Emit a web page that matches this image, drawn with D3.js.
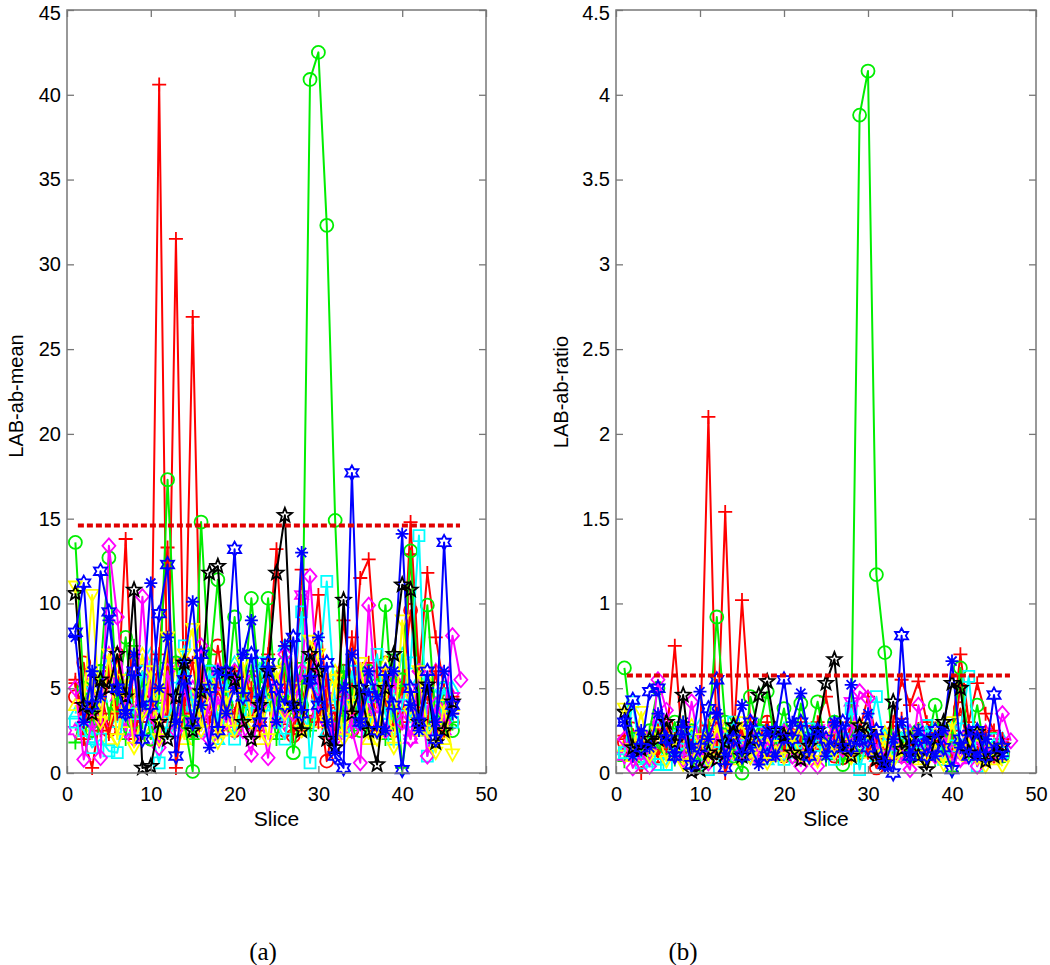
<!DOCTYPE html>
<html><head><meta charset="utf-8">
<script src="https://cdn.jsdelivr.net/npm/d3@7"></script>
<style>body{margin:0;background:#fff}svg{display:block}</style>
</head><body>
<svg id="c" width="1050" height="965"></svg>
<script>
// ---- tick labels / axes ----
const xTicks = [0, 10, 20, 30, 40, 50];
const meanTicks = [0, 5, 10, 15, 20, 25, 30, 35, 40, 45];
const ratioTicks = [0, 0.5, 1, 1.5, 2, 2.5, 3, 3.5, 4, 4.5];
const meanThreshold = 14.6;
const ratioThreshold = 0.575;
const thresholdSpan = [1.3, 46.9];

// ---- LAB-ab-mean series (panel a), value per slice 1..n ----
const meanRedO   = [4.5,6.5,3.0,5.0,2.5,7.0,4.0,3.5,6.0,2.0, 5.5,3.0,4.5,6.5,2.5,5.0,3.5,7.5,4.0,2.5, 5.5,3.0,6.0,4.5,3.5,2.5,2.2,5.0,3.0,4.5, 0.7,3.5,6.0,2.5,5.0,3.0,4.0,6.5,2.5,5.0, 9.6,3.5,4.5,2.0,5.0,3.0];
const meanGreenPlus = [1.8,4.5,2.5,6.0,3.5,5.0,2.0,7.5,3.0,4.5, 2.5,6.5,3.5,5.0,2.0,4.0,7.0,3.0,5.5,2.5, 4.5,6.0,3.0,5.0,2.0,4.5,3.5,6.5,2.5,5.0, 4.0,3.0,6.0,2.5,4.5,3.5,5.5,2.0,7.0,0.3, 4.0,3.0,5.5,2.5,4.0,3.0];
const meanCyanTri = [3.5,5.0,2.0,4.5,6.5,3.0,5.5,2.5,4.0,7.0, 3.5,5.0,2.5,6.0,4.0,3.0,5.5,2.0,4.5,6.5, 3.0,5.0,2.5,4.0,3.5,7.5,5.0,3.0,6.0,4.5, 2.5,5.5,3.5,4.0,6.0,2.5,5.0,3.5,4.5,7.0, 3.0,5.5,2.5,4.5,3.5,5.0];
const meanMagentaHex = [2.5,4.0,5.5,3.0,7.0,4.5,2.5,6.0,3.5,5.0, 2.0,4.5,6.5,3.0,5.0,2.5,4.0,6.0,3.5,2.5, 5.5,4.0,3.0,6.5,4.5,3.0,5.0,10.5,6.0,3.5, 4.5,2.5,5.0,3.0,6.0,4.0,2.5,5.5,3.5,4.5, 2.0,5.0,3.5,6.0,2.5,4.5];
const meanYellowTri = [4.0,2.5,5.5,3.5,2.0,6.0,3.0,4.5,7.0,2.5, 5.0,3.5,6.5,2.0,4.5,3.0,5.5,4.0,2.5,6.0, 3.5,5.0,2.0,4.5,3.0,6.5,4.0,2.5,5.5,3.0, 4.5,6.0,2.5,5.0,3.5,2.0,4.5,6.5,3.0,5.0, 4.0,2.5,5.5,3.5,2.0,4.0];
const meanRedPlusB = [5.5,3.0,4.2,2.5,6.0,3.5,5.0,2.0,4.5,3.0, 7.0,13.3,0.3,4.0,6.5,3.0,5.0,2.5,4.0,3.5, 6.0,4.5,2.5,5.5,3.0,7.5,4.0,2.5,6.0,3.0, 5.5,2.0,4.5,8.0,3.5,6.5,2.5,4.0,5.5,3.0, 12.9,4.5,3.0,6.0,2.5,4.5];
const meanRedPlus = [5.3,2.0,0.3,3.5,2.3,4.0,13.8,2.0,4.5,3.0, 40.6,3.0,31.5,3.5,26.9,4.5,3.0,5.0,3.5,6.0, 4.0,5.0,3.0,7.0,13.2,5.0,2.3,12.0,6.0,10.5, 4.0,3.5,9.0,5.0,11.5,12.6,6.0,4.0,3.5,5.0, 14.8,6.0,11.8,8.0,5.0,3.5];
const meanGreenO = [13.6,5.0,2.5,6.0,12.7,4.0,8.0,3.0,5.5,2.0, 4.5,17.3,6.5,3.0,0.1,14.8,6.0,11.4,4.0,9.2, 3.5,10.3,5.0,10.3,4.0,6.5,1.2,4.0,40.9,42.5, 32.3,14.9,3.0,5.0,2.5,6.0,4.0,9.9,3.0,5.5, 13.1,4.0,9.9,3.0,5.0,2.5];
const meanCyanSq = [3.0,2.5,1.5,2.0,1.3,1.2,4.0,3.5,6.0,2.5, 0.6,3.0,5.0,7.5,4.0,2.5,6.0,3.0,5.5,2.0, 4.5,3.5,6.5,4.0,3.0,2.0,5.0,9.5,0.6,5.5, 11.3,4.0,2.5,6.0,3.0,4.5,7.0,3.5,2.0,4.0, 6.5,14.0,1.0,3.5,5.0,3.0];
const meanMagentaD = [5.0,0.8,3.0,0.9,13.4,9.2,4.0,2.0,10.4,3.5, 1.5,6.0,2.5,5.0,3.0,7.5,2.0,4.5,3.0,6.0, 2.5,1.1,4.0,0.9,5.0,7.0,3.5,6.0,11.6,5.0, 3.0,2.0,4.5,2.5,0.6,9.9,4.0,2.5,5.5,3.0, 2.0,6.0,1.0,4.0,3.0,8.1,5.5];
const meanYellowV = [11.0,4.0,10.5,3.0,7.0,2.0,5.5,1.5,3.5,6.0, 2.0,8.0,3.0,7.0,8.5,2.5,5.0,1.8,4.5,2.5, 6.5,3.0,4.0,2.0,6.0,3.5,5.0,2.5,7.8,7.0, 3.0,5.5,2.0,4.0,6.5,3.0,2.0,5.0,1.5,9.0, 3.5,6.0,2.5,1.2,4.0,1.1];
const meanBlueStar = [8.0,3.0,6.0,4.5,9.0,5.0,3.5,7.0,4.0,11.2, 5.0,8.0,3.0,6.5,10.1,4.0,1.5,6.0,3.5,5.0, 7.0,9.0,4.5,6.0,3.0,7.5,4.0,13.0,5.5,8.0, 3.0,1.2,5.0,7.0,3.0,6.0,4.5,2.5,6.0,14.1, 4.0,2.5,5.0,3.0,6.0,3.5];
const meanBlackPent = [10.6,4.0,3.5,5.5,5.0,7.0,4.5,10.8,0.3,0.4, 3.0,2.0,4.5,6.5,2.5,4.8,11.8,12.2,6.0,5.5, 3.0,2.0,4.0,6.0,11.8,15.2,4.0,2.5,7.0,6.0, 2.0,1.5,10.2,3.5,5.0,2.5,0.5,5.0,7.0,11.1, 10.8,3.0,5.2,1.8,2.5,4.2];
const meanBlueHex = [8.3,11.2,4.0,11.9,9.5,5.0,3.5,6.0,2.0,4.0, 9.4,12.3,1.0,5.5,3.0,7.0,5.0,2.5,6.0,13.2, 4.5,7.0,3.0,6.5,5.0,4.0,8.0,3.5,5.5,4.0, 6.5,1.0,0.3,17.7,3.0,5.0,2.5,6.0,4.0,0.2, 5.0,3.0,6.0,2.0,13.6,4.0];

// ---- LAB-ab-ratio series (panel b) ----
const ratioRedO = [0.18,0.26,0.12,0.2,0.1,0.28,0.16,0.14,0.24,0.08, 0.22,0.12,0.18,0.26,0.1,0.2,0.14,0.3,0.16,0.1, 0.22,0.12,0.24,0.18,0.14,0.1,0.09,0.2,0.12,0.18, 0.03,0.14,0.24,0.1,0.2,0.12,0.16,0.26,0.1,0.2, 0.38,0.14,0.18,0.08,0.2,0.12];
const ratioGreenPlus = [0.07,0.18,0.1,0.24,0.14,0.2,0.08,0.3,0.12,0.18, 0.1,0.26,0.14,0.2,0.08,0.16,0.28,0.12,0.22,0.1, 0.18,0.24,0.12,0.2,0.08,0.18,0.14,0.26,0.1,0.2, 0.16,0.12,0.24,0.1,0.18,0.14,0.22,0.08,0.28,0.01, 0.16,0.12,0.22,0.1,0.16,0.12];
const ratioCyanTri = [0.14,0.2,0.08,0.18,0.26,0.12,0.22,0.1,0.16,0.28, 0.14,0.2,0.1,0.24,0.16,0.12,0.22,0.08,0.18,0.26, 0.12,0.2,0.1,0.16,0.14,0.3,0.2,0.12,0.24,0.18, 0.1,0.22,0.14,0.16,0.24,0.1,0.2,0.14,0.18,0.28, 0.12,0.22,0.1,0.18,0.14,0.2];
const ratioMagentaHex = [0.1,0.16,0.22,0.12,0.28,0.18,0.1,0.24,0.14,0.2, 0.08,0.18,0.26,0.12,0.2,0.1,0.16,0.24,0.14,0.1, 0.22,0.16,0.12,0.26,0.18,0.12,0.2,0.42,0.24,0.14, 0.18,0.1,0.2,0.12,0.24,0.16,0.1,0.22,0.14,0.18, 0.08,0.2,0.14,0.24,0.1,0.18];
const ratioYellowTri = [0.16,0.1,0.22,0.14,0.08,0.24,0.12,0.18,0.28,0.1, 0.2,0.14,0.26,0.08,0.18,0.12,0.22,0.16,0.1,0.24, 0.14,0.2,0.08,0.18,0.12,0.26,0.16,0.1,0.22,0.12, 0.18,0.24,0.1,0.2,0.14,0.08,0.18,0.26,0.12,0.2, 0.16,0.1,0.22,0.14,0.08,0.16];
const ratioRedPlusB = [0.22,0.12,0.18,0.1,0.25,0.14,0.2,0.08,0.18,0.12, 0.28,0.35,0.0,0.16,0.26,0.12,0.2,0.1,0.16,0.14, 0.24,0.18,0.1,0.22,0.12,0.3,0.16,0.1,0.24,0.12, 0.22,0.08,0.18,0.32,0.14,0.26,0.1,0.16,0.22,0.12, 0.52,0.18,0.12,0.24,0.1,0.18];
const ratioRedPlus = [0.2,0.1,0.0,0.15,0.1,0.2,0.75,0.1,0.2,0.15, 2.1,0.12,1.54,0.2,1.02,0.3,0.2,0.3,0.15,0.25, 0.2,0.3,0.15,0.3,0.45,0.2,0.1,0.3,0.25,0.45, 0.2,0.15,0.3,0.55,0.4,0.54,0.3,0.2,0.15,0.25, 0.70,0.3,0.53,0.35,0.25,0.2];
const ratioGreenO = [0.62,0.2,0.1,0.25,0.5,0.15,0.3,0.1,0.25,0.05, 0.2,0.92,0.3,0.1,0.0,0.45,0.25,0.48,0.15,0.38, 0.1,0.41,0.2,0.42,0.15,0.3,0.05,0.25,3.88,4.14, 1.17,0.71,0.1,0.2,0.1,0.25,0.15,0.4,0.1,0.2, 0.62,0.15,0.4,0.1,0.2,0.1];
const ratioCyanSq = [0.12,0.42,0.06,0.07,0.05,0.05,0.16,0.14,0.24,0.1, 0.02,0.12,0.2,0.3,0.16,0.1,0.24,0.12,0.22,0.08, 0.18,0.14,0.26,0.16,0.12,0.08,0.2,0.38,0.02,0.22, 0.45,0.16,0.1,0.24,0.12,0.18,0.28,0.14,0.08,0.16, 0.26,0.57,0.04,0.14,0.2,0.12];
const ratioMagentaD = [0.2,0.03,0.12,0.04,0.55,0.37,0.16,0.08,0.42,0.14, 0.06,0.24,0.1,0.2,0.12,0.3,0.08,0.18,0.12,0.24, 0.1,0.04,0.16,0.04,0.2,0.28,0.14,0.24,0.48,0.44, 0.12,0.08,0.18,0.1,0.02,0.4,0.16,0.1,0.22,0.12, 0.08,0.24,0.04,0.16,0.12,0.35,0.19];
const ratioYellowV = [0.38,0.14,0.36,0.1,0.24,0.07,0.2,0.05,0.12,0.2, 0.07,0.28,0.1,0.24,0.3,0.09,0.18,0.06,0.16,0.09, 0.22,0.1,0.14,0.07,0.2,0.12,0.17,0.09,0.27,0.24, 0.1,0.19,0.07,0.14,0.22,0.1,0.07,0.17,0.05,0.3, 0.12,0.2,0.09,0.04,0.14,0.04];
const ratioBlueStar = [0.3,0.1,0.25,0.15,0.35,0.2,0.1,0.3,0.15,0.48, 0.2,0.35,0.1,0.25,0.4,0.15,0.05,0.25,0.1,0.2, 0.3,0.47,0.2,0.25,0.1,0.3,0.15,0.52,0.2,0.35, 0.1,0.05,0.2,0.3,0.1,0.25,0.2,0.1,0.25,0.66, 0.15,0.25,0.1,0.2,0.15,0.1];
const ratioBlackPent = [0.36,0.15,0.14,0.2,0.2,0.3,0.18,0.46,0.01,0.02, 0.12,0.08,0.18,0.28,0.1,0.2,0.46,0.54,0.25,0.22, 0.12,0.08,0.16,0.25,0.53,0.67,0.16,0.1,0.28,0.24, 0.08,0.06,0.42,0.14,0.2,0.1,0.02,0.2,0.3,0.53, 0.5,0.12,0.24,0.07,0.1,0.16];
const ratioBlueHex = [0.3,0.43,0.15,0.48,0.5,0.2,0.1,0.25,0.05,0.15, 0.38,0.55,0.03,0.2,0.1,0.3,0.2,0.1,0.25,0.55, 0.2,0.3,0.1,0.25,0.2,0.15,0.3,0.15,0.2,0.15, 0.25,0.05,0.0,0.81,0.1,0.2,0.1,0.25,0.15,0.02, 0.2,0.1,0.25,0.1,0.46,0.15];

// series styles (drawing order)
const seriesColors  = ["#ff0000","#00ee00","#00ffff","#ff00ff","#ffff00","#ff0000","#ff0000","#00ee00","#00ffff","#ff00ff","#ffff00","#0000ff","#000000","#0000ff"];
const seriesMarkers = ["o","+","^","h","^","+","+","o","s","d","v","*","p","h"];
const meanSeries  = [meanRedO, meanGreenPlus, meanCyanTri, meanMagentaHex, meanYellowTri, meanRedPlusB, meanRedPlus, meanGreenO, meanCyanSq, meanMagentaD, meanYellowV, meanBlueStar, meanBlackPent, meanBlueHex];
const ratioSeries = [ratioRedO, ratioGreenPlus, ratioCyanTri, ratioMagentaHex, ratioYellowTri, ratioRedPlusB, ratioRedPlus, ratioGreenO, ratioCyanSq, ratioMagentaD, ratioYellowV, ratioBlueStar, ratioBlackPent, ratioBlueHex];

function star(n, ro, ri) {
  let p = "";
  for (let i = 0; i < 2 * n; i++) {
    const r = i % 2 ? ri : ro;
    const a = -Math.PI / 2 + i * Math.PI / n;
    p += (i ? "L" : "M") + (r * Math.cos(a)).toFixed(2) + "," + (r * Math.sin(a)).toFixed(2);
  }
  return p + "Z";
}
function markerPath(m) {
  switch (m) {
    case "+": return "M-7,0H7M0,-7V7";
    case "o": return "M6.5,0A6.5,6.5 0 1,1 -6.5,0A6.5,6.5 0 1,1 6.5,0Z";
    case "*": return "M-6.5,0H6.5M0,-6.5V6.5M-4.6,-4.6L4.6,4.6M-4.6,4.6L4.6,-4.6";
    case "s": return "M-5.5,-5.5H5.5V5.5H-5.5Z";
    case "d": return "M0,-7.5L6.5,0L0,7.5L-6.5,0Z";
    case "v": return "M-6.5,-5L6.5,-5L0,6.5Z";
    case "^": return "M-6.5,5L6.5,5L0,-6.5Z";
    case "p": return star(5, 7.5, 3.2);
    case "h": return star(6, 7.5, 4.2);
  }
}

const svg = d3.select("#c");
const plotTop = 10, plotBottom = 773;

function panel(x0, x1, yMax, yTicks, data, threshold, fmt) {
  const x = d3.scaleLinear().domain([0, 50]).range([x0, x1]);
  const y = d3.scaleLinear().domain([0, yMax]).range([plotBottom, plotTop]);
  const g = svg.append("g");

  const line = d3.line().x((d, i) => x(i + 1)).y(d => y(d));
  data.forEach((vals, k) => {
    const col = seriesColors[k];
    g.append("path").attr("d", line(vals)).attr("fill", "none")
      .attr("stroke", col).attr("stroke-width", 2).attr("stroke-linejoin", "round");
    g.selectAll(null).data(vals).enter().append("path")
      .attr("d", markerPath(seriesMarkers[k]))
      .attr("transform", (d, i) => `translate(${x(i + 1)},${y(d)})`)
      .attr("fill", "none").attr("stroke", col).attr("stroke-width", 1.8);
  });

  g.append("line").attr("x1", x(thresholdSpan[0])).attr("x2", x(thresholdSpan[1]))
    .attr("y1", y(threshold)).attr("y2", y(threshold))
    .attr("stroke", "#e00000").attr("stroke-width", 4).attr("stroke-dasharray", "6,3");

  const axCol = "#777";
  const styleAxis = (sel, labels) => {
    sel.select(".domain").remove();
    sel.selectAll(".tick line").attr("stroke", axCol).attr("stroke-width", 1.3);
    sel.selectAll(".tick text").attr("fill", labels ? "#000" : "none")
      .style("font-family", "'Liberation Sans', Arial, sans-serif").style("font-size", "20px");
  };
  svg.append("g").attr("transform", `translate(0,${plotBottom})`)
    .call(d3.axisBottom(x).tickValues(xTicks).tickSize(-7).tickPadding(14).tickFormat(d3.format("d")))
    .call(s => styleAxis(s, true));
  svg.append("g").attr("transform", `translate(0,${plotTop})`)
    .call(d3.axisTop(x).tickValues(xTicks).tickSize(-7).tickFormat(""))
    .call(s => styleAxis(s, false));
  const yAx = svg.append("g").attr("transform", `translate(${x0},0)`)
    .call(d3.axisLeft(y).tickValues(yTicks).tickSize(-7).tickPadding(6).tickFormat(fmt))
    .call(s => styleAxis(s, true));
  // keep the top label inside the page
  yAx.selectAll(".tick").filter(d => d === yMax).select("text").attr("dy", "0.45em");
  svg.append("g").attr("transform", `translate(${x1},0)`)
    .call(d3.axisRight(y).tickValues(yTicks).tickSize(-7).tickFormat(""))
    .call(s => styleAxis(s, false));
  svg.append("rect").attr("x", x0).attr("y", plotTop).attr("width", x1 - x0).attr("height", plotBottom - plotTop)
    .attr("fill", "none").attr("stroke", axCol).attr("stroke-width", 1.5);

  svg.append("text").attr("x", (x0 + x1) / 2).attr("y", 826).attr("text-anchor", "middle")
    .style("font-family", "'Liberation Sans', Arial, sans-serif").style("font-size", "21px").text("Slice");
}

panel(67, 486, 45, meanTicks, meanSeries, meanThreshold, d3.format("d"));
panel(616, 1036, 4.5, ratioTicks, ratioSeries, ratioThreshold, d => String(d));

function ylab(cx, cy, t) {
  svg.append("text").attr("transform", `translate(${cx},${cy}) rotate(-90)`)
    .attr("text-anchor", "middle").attr("dominant-baseline", "central")
    .style("font-family", "'Liberation Sans', Arial, sans-serif").style("font-size", "20px").text(t);
}
ylab(16, 396, "LAB-ab-mean");
ylab(561, 392, "LAB-ab-ratio");

function cap(cx, t) {
  svg.append("text").attr("x", cx).attr("y", 960).attr("text-anchor", "middle")
    .style("font-family", "'Liberation Serif', 'Times New Roman', serif").style("font-size", "25px").text(t);
}
cap(263, "(a)");
cap(683, "(b)");
</script>
</body></html>
